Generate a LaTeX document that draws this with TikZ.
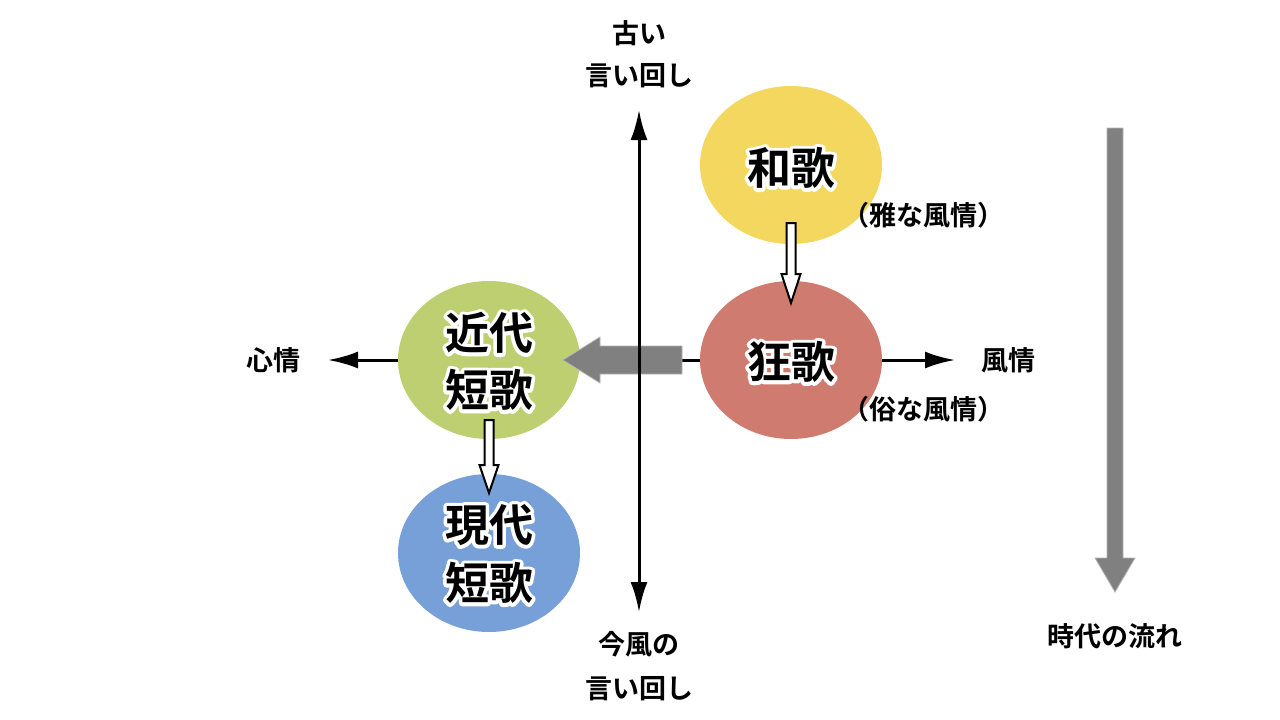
\documentclass[tikz,border=0pt]{standalone}
\usepackage{fontspec}
\setmainfont{Noto Sans CJK JP}[BoldFont={Noto Sans CJK JP Bold}]
\usetikzlibrary{arrows.meta,shapes.geometric}
\definecolor{cyellow}{HTML}{F4D75E}
\definecolor{cred}{HTML}{CF7B70}
\definecolor{cgreen}{HTML}{BECF72}
\definecolor{cblue}{HTML}{77A0D8}
\definecolor{cgray}{HTML}{808080}
\newcommand{\haloed}[1]{\leavevmode\rlap{\special{pdf:code q 1 Tr 7 w 1 J 1 j 1 1 1 RG}#1\special{pdf:code Q}}#1}
\tikzset{
  era/.style={ellipse, minimum width=182pt, minimum height=158pt, inner sep=0pt},
  eratext/.style={font=\fontsize{44}{57}\selectfont\bfseries, align=center, inner sep=0pt},
  lbl/.style={font=\fontsize{27}{42}\selectfont\bfseries, align=center, inner sep=0pt},
  axis/.style={line width=3pt, -{Latex[length=30pt,width=17pt]}},
  hollow/.style={draw=black, line width=2pt, fill=white, line join=miter},
  bigarrow/.style={fill=cgray, draw=cgray!60, line width=0.8pt},
}
\begin{document}
\begin{tikzpicture}[x=1pt,y=-1pt]
\useasboundingbox (0,0) rectangle (1280,720);
\fill[white] (0,0) rectangle (1280,720);
% coordinates of axes
\coordinate (origin) at (639,360);
\coordinate (left) at (328,360);
\coordinate (right) at (955,360);
\coordinate (top) at (639,110);
\coordinate (bottom) at (639,612);
% horizontal axis
\draw[axis] (origin) -- (left);
\draw[axis] (origin) -- (right);
% ellipses
\node[era, fill=cyellow] (waka) at (791,165) {};
\node[era, fill=cred] (kyoka) at (791,360) {};
\node[era, fill=cgreen] (kindai) at (489,360) {};
\node[era, fill=cblue] (gendai) at (489,553) {};
% gray big arrow from kyoka to kindai
\filldraw[bigarrow] (682,346) -- (600,346) -- (600,337) -- (563,360) -- (600,383) -- (600,374) -- (682,374) -- cycle;
% vertical axis
\draw[axis] (origin) -- (top);
\draw[axis] (origin) -- (bottom);
% hollow arrows
\path[hollow] (786.5,223) -- (795.5,223) -- (795.5,274) -- (800.5,274) -- (791,303) -- (781.5,274) -- (786.5,274) -- cycle;
\path[hollow] (484.5,420) -- (493.5,420) -- (493.5,465) -- (498.5,465) -- (489,493) -- (479.5,465) -- (484.5,465) -- cycle;
% time arrow
\coordinate (tstart) at (1115,128);
\coordinate (tend) at (1115,592);
\filldraw[bigarrow] (1107,128) -- (1123,128) -- (1123,558) -- (1135,558) -- (1115,592) -- (1095,558) -- (1107,558) -- cycle;
% ellipse texts
\node[eratext] (t1) at (791,168) {\haloed{和歌}};
\node[eratext] (t2) at (791,362) {\haloed{狂歌}};
\node[eratext] (t3a) at (489,333) {\haloed{近代}};
\node[eratext] (t3b) at (489,390) {\haloed{短歌}};
\node[eratext] (t4a) at (489,525) {\haloed{現代}};
\node[eratext] (t4b) at (489,583) {\haloed{短歌}};
% labels
\node[lbl] (old1) at (639,33) {古い};
\node[lbl] (old2) at (639,76) {言い回し};
\node[lbl] (new1) at (639,644) {今風の};
\node[lbl] (new2) at (639,689) {言い回し};
\node[lbl] (shinjo) at (273,360) {心情};
\node[lbl] (fuzei) at (1008,360) {風情};
\node[lbl] (miyabi) at (923,215) {（雅な風情）};
\node[lbl] (zoku) at (923,409) {（俗な風情）};
\node[lbl] (jidai) at (1115,636) {時代の流れ};
\end{tikzpicture}
\end{document}
